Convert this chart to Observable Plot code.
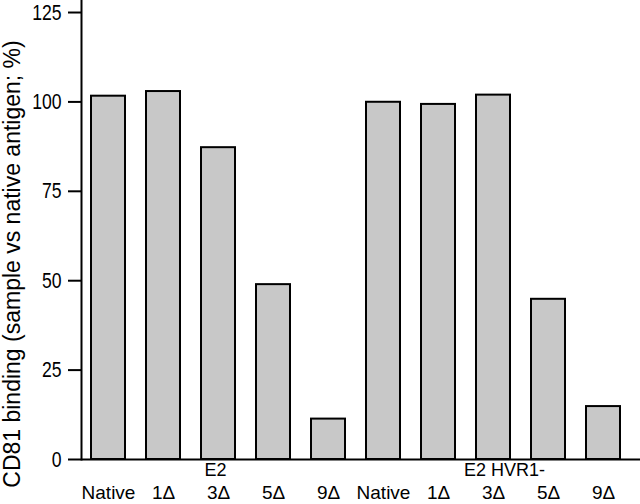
<!DOCTYPE html>
<html>
<head>
<meta charset="utf-8">
<script src="https://cdn.jsdelivr.net/npm/d3@7"></script>
<script src="https://cdn.jsdelivr.net/npm/@observablehq/plot@0.6"></script>
<style>
  html, body { margin: 0; padding: 0; background: #fff; }
  svg { display: block; }
</style>
</head>
<body>
<div id="chart"></div>
<script>
const ids = ["E2 Native", "E2 1Δ", "E2 3Δ", "E2 5Δ", "E2 9Δ",
             "HVR Native", "HVR 1Δ", "HVR 3Δ", "HVR 5Δ", "HVR 9Δ"];
const labels = ["Native", "1Δ", "3Δ", "5Δ", "9Δ", "Native", "1Δ", "3Δ", "5Δ", "9Δ"];
const values = [101.6, 102.9, 87.2, 48.9, 11.3, 99.9, 99.3, 101.9, 44.8, 14.8];
const groupNames = ["E2", "E2 HVR1-"];
const groupAt = ["E2 3Δ", "HVR 3Δ"];
const yTicks = [0, 25, 50, 75, 100, 125];
const yTitle = "CD81 binding (sample vs native antigen; %)";

const data = ids.map((id, i) => ({id, label: labels[i], value: values[i]}));
const labelOf = new Map(ids.map((id, i) => [id, labels[i]]));

const plot = Plot.plot({
  width: 640,
  height: 504,
  marginLeft: 81,
  marginRight: 0,
  marginTop: 0,
  marginBottom: 45,
  style: {fontFamily: "'Liberation Sans', Arial, sans-serif", color: "#000", background: "#fff"},
  x: {type: "band", domain: ids, paddingInner: 0.38, paddingOuter: 0.18, insetRight: 9.5, label: null},
  y: {domain: [0, 128.36], label: null},
  marks: [
    Plot.barY(data, {x: "id", y: "value", fill: "#c8c8c8", stroke: "#000", strokeWidth: 2}),
    Plot.ruleY([0], {stroke: "#000", strokeWidth: 2}),
    Plot.frame({anchor: "left", stroke: "#000", strokeWidth: 2}),
    Plot.axisY({ticks: yTicks, tickSize: 13, tickPadding: 7, strokeWidth: 2, fontSize: 22, label: null}),
    Plot.axisX({tickSize: 0, tickPadding: 26, fontSize: 19, tickFormat: d => labelOf.get(d), label: null}),
    Plot.text([groupNames[0]], {x: [groupAt[0]], text: d => d, frameAnchor: "bottom", lineAnchor: "top", dy: 4, dx: -3, fontSize: 18}),
    Plot.text([groupNames[1]], {x: [groupAt[1]], text: d => d, frameAnchor: "bottom", lineAnchor: "top", dy: 4, dx: 11, fontSize: 18}),
    Plot.text([yTitle], {frameAnchor: "left", textAnchor: "middle", rotate: -90, dx: -69, dy: 34, fontSize: 23})
  ]
});
// the reference's tick numerals are tall and narrow: compress them horizontally
d3.select(plot).selectAll("g[aria-label='y-axis tick label'] text").each(function() {
  const t = this.getAttribute("transform") || "";
  this.setAttribute("transform", t + " scale(0.8,1)");
});
document.getElementById("chart").appendChild(plot);
</script>
</body>
</html>
